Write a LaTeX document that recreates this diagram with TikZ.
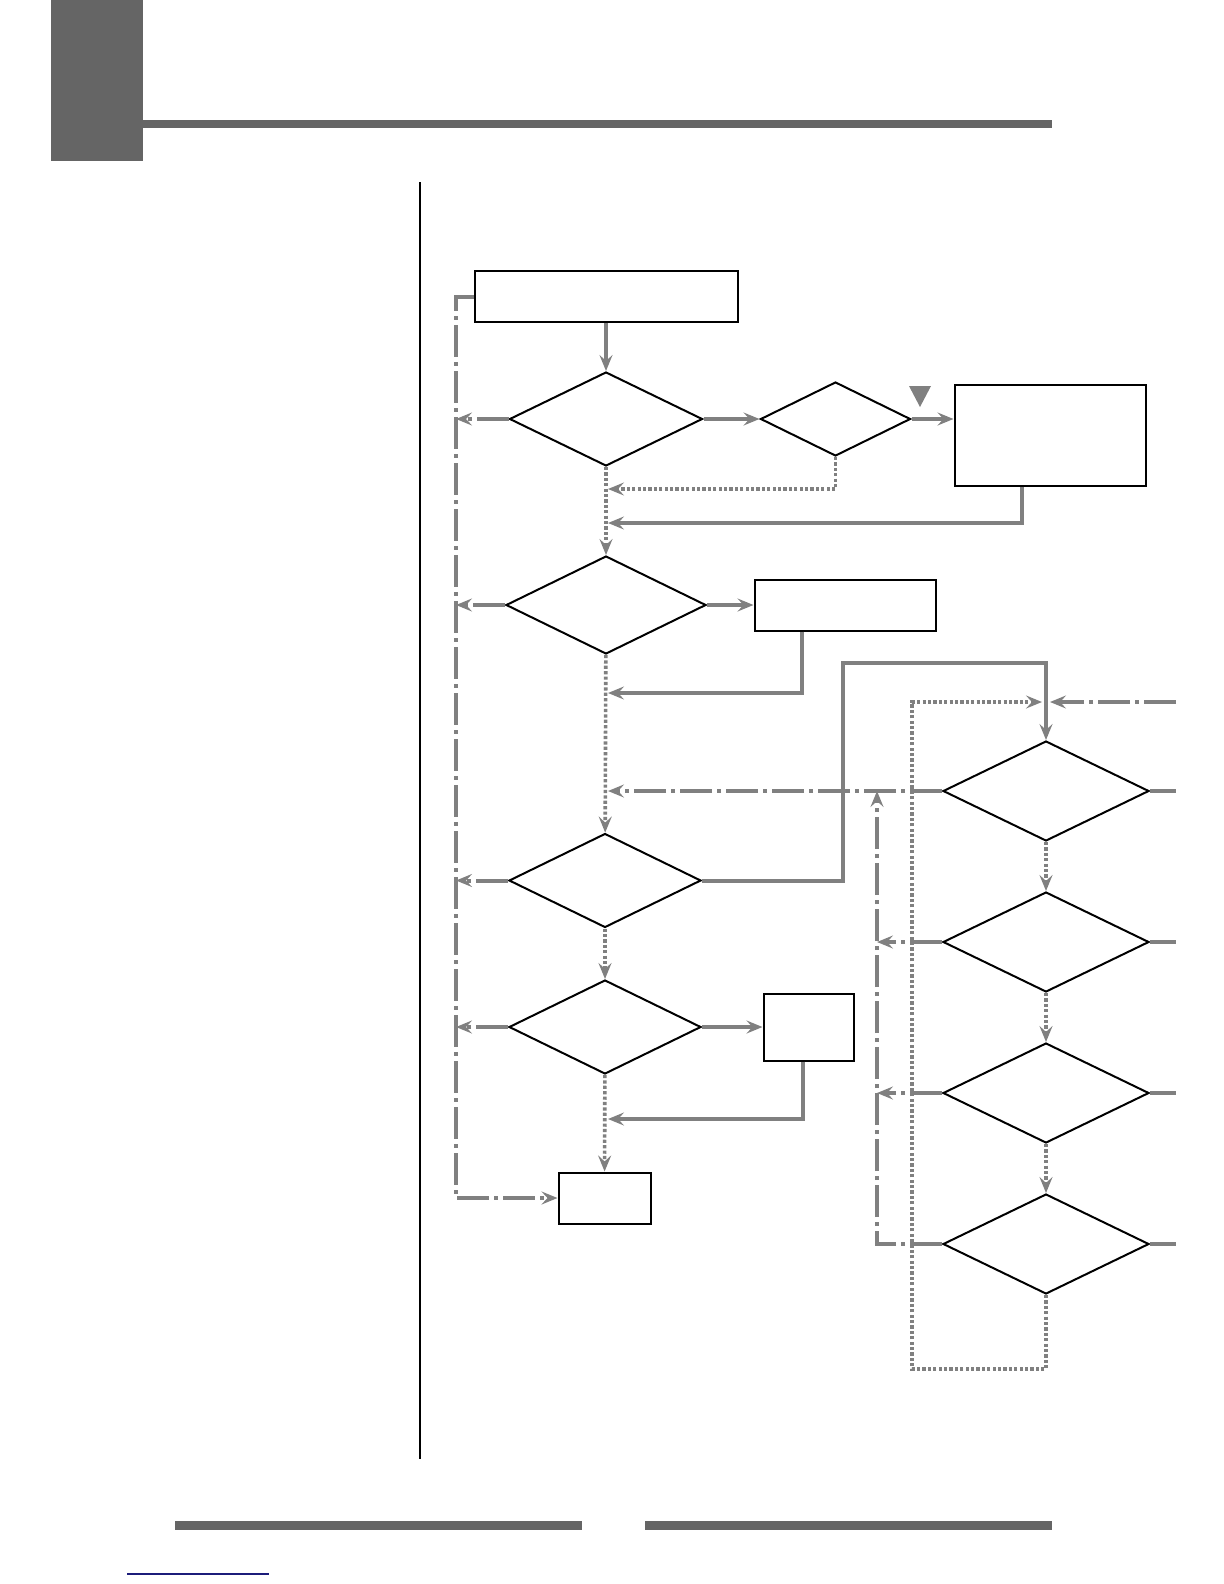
\documentclass[tikz,border=0pt]{standalone}
\usepackage{xcolor}
\usepackage{tikz}
\usetikzlibrary{shapes.geometric}
\usetikzlibrary{arrows.meta}
\usetikzlibrary{positioning}

\definecolor{flow}{HTML}{808080}
\definecolor{band}{HTML}{656565}
\definecolor{linkblue}{HTML}{1C1C7A}

\begin{document}
\begin{tikzpicture}[
  x=0.5pt,y=-0.5pt,
  >={Stealth[length=8pt,width=6.5pt,inset=3pt]},
  box/.style={rectangle,draw,line width=1pt,inner sep=0pt},
  test/.style={diamond,draw,line width=1pt,inner sep=0pt},
  rtest/.style={test,minimum width=103pt,minimum height=50pt},
  yes/.style={draw=flow,line width=2pt},
  no/.style={draw=flow,line width=1.8pt,dash pattern=on 1.6pt off 1.1pt},
  skip/.style={draw=flow,line width=2pt,dash pattern=on 16pt off 2.5pt on 2pt off 2.5pt}
]
\useasboundingbox (0,0) rectangle (1224,1584);

% page frame
\fill[band] (51,0) rectangle (143,161);
\fill[band] (143,120) rectangle (1052,128);
\draw[line width=1pt] (420,182) -- (420,1459);
\fill[band] (175,1521) rectangle (582,1530);
\fill[band] (645,1521) rectangle (1052,1530);
\draw[linkblue,line width=0.8pt] (127,1574) -- (269,1574);

% left column
\node[box,minimum width=131.5pt,minimum height=25.5pt] (start) at (606,296.5) {};
\node[test,minimum width=96.5pt,minimum height=47pt] (d1) at (606,419) {};
\node[test,minimum width=75pt,minimum height=37pt] (d2) [right=28pt of d1] {};
\node[box,minimum width=95.5pt,minimum height=50.5pt] (fix1) at (1050,435.5) {};
\node[test,minimum width=100pt,minimum height=49pt] (d3) at (606,605) {};
\node[box,minimum width=90.5pt,minimum height=25.5pt] (b3) at (845,605) {};
\node[test,minimum width=96pt,minimum height=47pt] (d4) at (605,880.5) {};
\node[test,minimum width=96pt,minimum height=47pt] (d5) at (605,1027) {};
\node[box,minimum width=45pt,minimum height=33.5pt] (b4) at (808.5,1027) {};
\node[box,minimum width=46pt,minimum height=25.5pt] (endb) at (604.5,1198) {};

% right column
\node[rtest] (r1) at (1046,791) {};
\node[rtest] (r2) [below=24.5pt of r1] {};
\node[rtest] (r3) [below=24.5pt of r2] {};
\node[rtest] (r4) [below=24.5pt of r3] {};

\fill[flow] (909,386) -- (931,386) -- (920,407) -- cycle;

\coordinate (railL) at (456,0);
\coordinate (railR) at (877,0);
\coordinate (midC) at (608,0);
\coordinate (edgeR) at (1176,0);
\coordinate (d2ret) at (834,489);
\coordinate (fixdrop) at (1022,523);
\coordinate (b3drop) at (802,693);
\coordinate (b4drop) at (803,1119);
\coordinate (bendA) at (843,663);
\coordinate (loopT) at (912,702);
\coordinate (loopB) at (912,1369);
\coordinate (inR) at (1176,702);

\draw[yes,->] (start) -- (d1);
\draw[yes,->] (d1) -- (d2);
\draw[yes,->] (d2.east) -- (d2.east -| fix1.west);
\draw[no,->] (d2.south) |- (midC |- d2ret);
\draw[yes,->] (fix1.south -| fixdrop) |- (midC |- fixdrop);
\draw[no,->] (d1) -- (d3);
\draw[yes,->] (d3) -- (b3);
\draw[yes,->] (b3.south -| b3drop) |- (midC |- b3drop);
\draw[no,->] (d3) -- (d4);
\draw[yes,->] (d4.east) -| (bendA) -| (r1.north);
\draw[no,->] (d4) -- (d5);
\draw[yes,->] (d5) -- (b4);
\draw[yes,->] (b4.south -| b4drop) |- (midC |- b4drop);
\draw[no,->] (d5) -- (endb);

\draw[skip,->] (start.west) -- (start.west -| railL) -- (endb.west -| railL) -- (endb.west);
\draw[skip,->] (d1.west) -- (d1.west -| railL);
\draw[skip,->] (d3.west) -- (d3.west -| railL);
\draw[skip,->] (d4.west) -- (d4.west -| railL);
\draw[skip,->] (d5.west) -- (d5.west -| railL);

\draw[skip,->] (r1.west) -- (r1.west -| midC);
\draw[skip,->] (r4.west) -- (r4.west -| railR) -- (r1.west -| railR);
\draw[skip,->] (r2.west) -- (r2.west -| railR);
\draw[skip,->] (r3.west) -- (r3.west -| railR);
\draw[no,->] (r1) -- (r2);
\draw[no,->] (r2) -- (r3);
\draw[no,->] (r3) -- (r4);
\draw[no,->,shorten >=2pt] (r4.south) |- (loopB) -- (loopT) -- (r1.north |- loopT);
\draw[skip,->,shorten >=2pt] (inR) -- (r1.north |- inR);
\draw[yes] (r1.east) -- (r1.east -| edgeR);
\draw[yes] (r2.east) -- (r2.east -| edgeR);
\draw[yes] (r3.east) -- (r3.east -| edgeR);
\draw[yes] (r4.east) -- (r4.east -| edgeR);
\end{tikzpicture}
\end{document}
